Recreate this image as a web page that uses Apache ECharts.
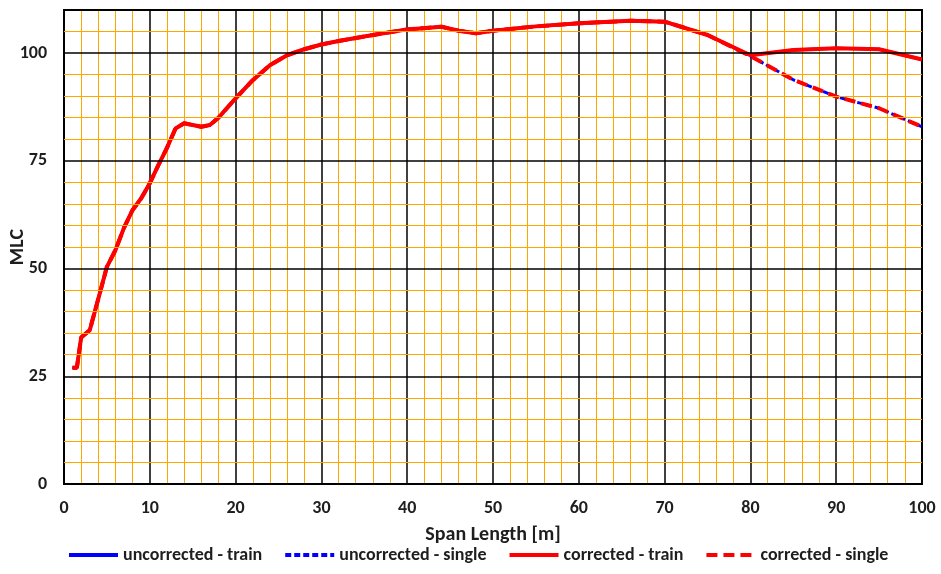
<!DOCTYPE html>
<html><head><meta charset="utf-8">
<script src="https://cdn.jsdelivr.net/npm/echarts@6/dist/echarts.min.js"></script>
<style>html,body{margin:0;padding:0;background:#fff}#c{width:941px;height:574px}</style>
</head><body><div id="c"></div>
<script>
const spanLength = [1, 1.5, 2, 3, 4, 5, 6, 7, 8, 9, 10, 11, 12, 13, 14, 15, 16, 17, 18, 20, 22, 24, 26, 28, 30, 32, 36, 40, 44, 46, 48, 50, 55, 60, 66, 70, 75, 80, 85, 90, 95, 100];
const uncorrectedTrain = [27, 27, 34, 35.7, 43, 50.4, 54.3, 59.5, 63.6, 66.3, 69.8, 74, 78, 82.5, 83.7, 83.3, 82.9, 83.3, 85, 89.5, 93.7, 97.2, 99.5, 100.9, 102, 102.8, 104.2, 105.5, 106.1, 105.2, 104.6, 105.2, 106.2, 106.9, 107.5, 107.3, 104.2, 99.5, 100.7, 101.1, 100.9, 98.5];
const uncorrectedSingle = [27, 27, 34, 35.7, 43, 50.4, 54.3, 59.5, 63.6, 66.3, 69.8, 74, 78, 82.5, 83.7, 83.3, 82.9, 83.3, 85, 89.5, 93.7, 97.2, 99.5, 100.9, 102, 102.8, 104.2, 105.5, 106.1, 105.2, 104.6, 105.2, 106.2, 106.9, 107.5, 107.3, 104.2, 99.3, 93.8, 89.9, 87.2, 82.9];
const correctedTrain = uncorrectedTrain.slice();
const correctedSingle = uncorrectedSingle.slice();
const seriesNames = ['uncorrected - train', 'uncorrected - single', 'corrected - train', 'corrected - single'];
const yMajorTicks = [25, 50, 75, 100];
const yMinorTicks = [5, 10, 15, 20, 30, 35, 40, 45, 55, 60, 65, 70, 80, 85, 90, 95, 105];
const xTitle = 'Span Length [m]';
const yTitle = 'MLC';

const FONT = "Carlito, 'Liberation Sans', sans-serif";
const TXT = '#1e1e1e';
const pairs = ys => spanLength.map((x, i) => [x, ys[i]]);
const chart = echarts.init(document.getElementById('c'), null, {renderer: 'canvas'});
const orange = '#FFA500';
chart.setOption({
  animation: false,
  textStyle: {fontFamily: FONT},
  grid: {left: 64, right: 19, top: 10, bottom: 90, containLabel: false, outerBoundsMode: 'none',
    show: true, borderColor: '#000', borderWidth: 2, z: 3},
  xAxis: [{
    type: 'value', min: 0, max: 100, interval: 10, z: 2,
    name: xTitle, nameLocation: 'middle', nameGap: 41,
    nameTextStyle: {fontFamily: FONT, fontWeight: 'bold', fontSize: 20, color: TXT},
    axisLine: {show: true, lineStyle: {color: '#000', width: 2}},
    axisTick: {show: false},
    axisLabel: {fontFamily: FONT, fontWeight: 'bold', fontSize: 18, color: TXT, margin: 15},
    splitLine: {show: true, lineStyle: {color: '#000', width: 1.5}},
    minorTick: {show: false, splitNumber: 5},
    minorSplitLine: {show: true, lineStyle: {color: orange, width: 1}},
    splitArea: {show: false}
  }],
  yAxis: [{
    type: 'value', min: 0, max: 110, interval: 25, z: 1,
    name: yTitle, nameLocation: 'middle', nameGap: 36, nameRotate: 90, nameMoveOverlap: false,
    nameTextStyle: {fontFamily: FONT, fontWeight: 'bold', fontSize: 20, color: TXT},
    axisLine: {show: true, lineStyle: {color: '#000', width: 2}},
    axisTick: {show: false},
    axisLabel: {fontFamily: FONT, fontWeight: 'bold', fontSize: 18, color: TXT, margin: 17,
      formatter: v => (v % 25 === 0 ? String(v) : '')},
    splitLine: {show: false},
    minorTick: {show: false},
    minorSplitLine: {show: false},
    splitArea: {show: false}
  }],
  legend: {
    bottom: 5, left: 62, itemWidth: 49, itemHeight: 12, itemGap: 21,
    itemStyle: {opacity: 0},
    lineStyle: {width: 4},
    textStyle: {fontFamily: FONT, fontWeight: 'bold', fontSize: 18, color: TXT},
    data: seriesNames
  },
  series: [
    {name: 'grid-minor', type: 'line', data: [], z: 1, silent: true,
      markLine: {silent: true, symbol: ['none', 'none'], label: {show: false},
        lineStyle: {color: orange, width: 1, type: 'solid'}, animation: false,
        data: yMinorTicks.map(v => ({yAxis: v}))}},
    {name: 'grid-major', type: 'line', data: [], z: 2, silent: true,
      markLine: {silent: true, symbol: ['none', 'none'], label: {show: false},
        lineStyle: {color: '#000', width: 1.5, type: 'solid'}, animation: false,
        data: yMajorTicks.map(v => ({yAxis: v}))}},
    {name: seriesNames[0], type: 'line', data: pairs(uncorrectedTrain), showSymbol: false, symbol: 'none',
      lineStyle: {color: '#0000FF', width: 3}, itemStyle: {color: '#0000FF'}, z: 3},
    {name: seriesNames[1], type: 'line', data: pairs(uncorrectedSingle), showSymbol: false, symbol: 'none',
      lineStyle: {color: '#0000FF', width: 3, type: [6, 3]}, itemStyle: {color: '#0000FF'}, z: 3},
    {name: seriesNames[2], type: 'line', data: pairs(correctedTrain), showSymbol: false, symbol: 'none',
      lineStyle: {color: '#FF0000', width: 4}, itemStyle: {color: '#FF0000'}, z: 4},
    {name: seriesNames[3], type: 'line', data: pairs(correctedSingle), showSymbol: false, symbol: 'none',
      lineStyle: {color: '#FF0000', width: 4, type: [11, 6]}, itemStyle: {color: '#FF0000'}, z: 4}
  ]
});
</script></body></html>
